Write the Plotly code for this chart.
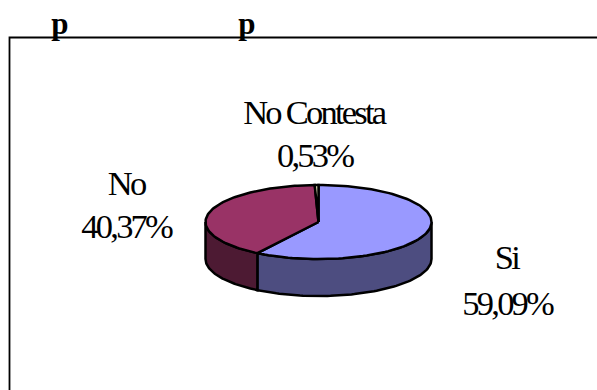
import numpy as np
import plotly.graph_objects as go

# Survey answers and their shares, in percent
categories = ["Si", "No", "No Contesta"]
shares = [59.09, 40.37, 0.53]
share_labels = ["59,09%", "40,37%", "0,53%"]
top_colors = ["#9999ff", "#993366", "#ffffcc"]
wall_colors = ["#4d4d80", "#4d1a33", "#80805f"]
label_centers = [506.5, 126, 314]
name_rows = [257, 183, 112]
share_rows = [303, 226, 155]

# Pie placement on the pixel-sized canvas
cx, cy, rx, ry, depth = 318.5, 222, 113, 37, 37
FRAME_X, FRAME_Y, W, H = 9.5, 37.5, 597, 390


def rim(t):
    # t is measured in degrees, clockwise from twelve o'clock
    r = np.radians(t)
    return cx + rx * np.sin(r), cy - ry * np.cos(r)


fig = go.Figure()
edges = np.cumsum([0] + shares) / sum(shares) * 360

# Cylinder walls first, only the part facing the viewer
for i in range(len(shares)):
    a, b = max(edges[i], 90), min(edges[i + 1], 270)
    if a >= b:
        continue
    t = np.linspace(a, b, 80)
    x, y = rim(t)
    fig.add_trace(go.Scatter(
        x=np.r_[x, x[::-1], x[0]], y=np.r_[y, y[::-1] + depth, y[0]],
        mode="lines", fill="toself", fillcolor=wall_colors[i],
        line=dict(color="black", width=2.5), hoverinfo="skip"))

# Top face slices
for i in range(len(shares)):
    t = np.linspace(edges[i], edges[i + 1], 100)
    x, y = rim(t)
    fig.add_trace(go.Scatter(
        x=np.r_[cx, x, cx], y=np.r_[cy, y, cy],
        mode="lines", fill="toself", fillcolor=top_colors[i],
        line=dict(color="black", width=2.5), hoverinfo="skip"))

# Open frame: left and top borders only
fig.add_trace(go.Scatter(x=[FRAME_X, FRAME_X, W], y=[H, FRAME_Y, FRAME_Y], mode="lines",
                         line=dict(color="black", width=1.8), hoverinfo="skip"))

for name, pct, lx, ny, py in zip(categories, share_labels, label_centers, name_rows, share_rows):
    for text, ly in ((name, ny), (pct, py)):
        fig.add_annotation(x=lx, y=ly, text=text, showarrow=False,
                           font=dict(family="Liberation Serif", size=34.5, color="black"))

for px in (58, 245):
    fig.add_annotation(x=px, y=23, text="<b>p</b>", showarrow=False,
                       font=dict(family="Liberation Serif", size=31, color="black"))

fig.update_layout(
    width=W, height=H, margin=dict(l=0, r=0, t=0, b=0), showlegend=False,
    paper_bgcolor="white", plot_bgcolor="white",
    xaxis=dict(range=[0, W], visible=False, fixedrange=True),
    yaxis=dict(range=[H, 0], visible=False, fixedrange=True),
)
fig.write_html("out.html", config={"displayModeBar": False},
               post_script="document.querySelectorAll('.annotation-text').forEach(function(t){t.style.letterSpacing='-0.08em';});")
